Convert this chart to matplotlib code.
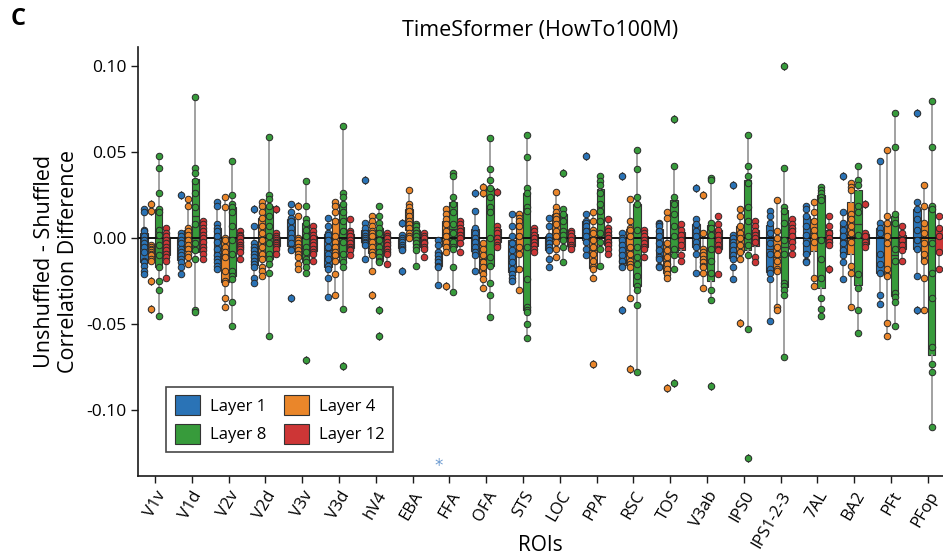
import numpy as np
import matplotlib
matplotlib.use("Agg")
import matplotlib.pyplot as plt
from matplotlib.patches import Patch

rois = ["V1v", "V1d", "V2v", "V2d", "V3v", "V3d", "hV4", "EBA", "FFA", "OFA", "STS",
        "LOC", "PPA", "RSC", "TOS", "V3ab", "IPS0", "IPS1-2-3", "7AL", "BA2", "PFt", "PFop"]

layer_names = ["Layer 1", "Layer 4", "Layer 8", "Layer 12"]
layer_colors = ["#2a73b6", "#ea862a", "#379b3b", "#cd3636"]

# Unshuffled - shuffled correlation difference, one list per ROI
layer1 = [
    [0.017, 0.015, 0.005, 0.004, 0.001, -0.001, -0.003, -0.005, -0.008, -0.013, -0.014, -0.016, -0.019, -0.021],
    [0.025, 0.003, 0.001, -0.001, -0.003, -0.006, -0.008, -0.010, -0.012, -0.014, -0.017, -0.021],
    [0.021, 0.019, 0.008, 0.006, 0.004, 0.001, -0.002, -0.006, -0.010, -0.012, -0.014, -0.016, -0.018],
    [0.017, 0.007, -0.003, -0.005, -0.007, -0.009, -0.011, -0.013, -0.015, -0.017, -0.023, -0.026],
    [0.020, 0.015, 0.012, 0.010, 0.006, 0.003, 0.000, -0.003, -0.006, -0.007, -0.035],
    [0.012, 0.007, 0.003, 0.002, -0.001, -0.005, -0.009, -0.012, -0.016, -0.018, -0.023, -0.034],
    [0.034, 0.009, 0.006, 0.003, 0.001, 0.000, -0.001, -0.002, -0.003, -0.004, -0.012],
    [0.009, 0.002, 0.000, -0.001, -0.002, -0.004, -0.005, -0.006, -0.007, -0.019],
    [-0.001, -0.004, -0.008, -0.010, -0.012, -0.014, -0.016, -0.017, -0.027],
    [0.026, 0.016, 0.006, 0.003, 0.000, -0.002, -0.005, -0.008, -0.010, -0.019],
    [0.014, 0.007, 0.001, -0.003, -0.007, -0.011, -0.014, -0.018, -0.021, -0.023, -0.025],
    [0.012, 0.007, 0.001, -0.001, -0.003, -0.005, -0.007, -0.012, -0.017],
    [0.048, 0.014, 0.010, 0.009, 0.007, 0.004, 0.001, -0.002, -0.006, -0.010],
    [0.036, 0.003, 0.000, -0.001, -0.004, -0.007, -0.010, -0.013, -0.016, -0.017, -0.042],
    [0.009, 0.008, 0.007, 0.004, 0.001, -0.003, -0.007, -0.011, -0.012, -0.016, -0.017],
    [0.029, 0.011, 0.008, 0.004, 0.001, -0.002, -0.005, -0.009, -0.020],
    [0.031, 0.002, 0.000, -0.002, -0.004, -0.007, -0.010, -0.012, -0.017, -0.024],
    [0.016, 0.013, 0.009, 0.003, -0.003, -0.009, -0.018, -0.020, -0.024, -0.048],
    [0.019, 0.017, 0.013, 0.007, 0.002, -0.003, -0.009, -0.013, -0.014],
    [0.036, 0.015, 0.009, 0.005, 0.001, -0.003, -0.007, -0.010, -0.014, -0.024],
    [0.045, 0.009, 0.006, 0.003, -0.009, -0.015, -0.020, -0.033, -0.038],
    [0.073, 0.021, 0.017, 0.011, 0.005, -0.001, -0.006, -0.022, -0.042],
]

layer4 = [
    [0.020, 0.016, -0.004, -0.005, -0.006, -0.007, -0.008, -0.009, -0.010, -0.012, -0.013, -0.025, -0.041],
    [0.023, 0.019, 0.006, 0.004, 0.002, -0.001, -0.004, -0.006, -0.009, -0.011, -0.015],
    [0.024, 0.018, 0.000, -0.001, -0.005, -0.008, -0.011, -0.019, -0.025, -0.026, -0.035, -0.040],
    [0.021, 0.019, 0.015, 0.012, 0.007, 0.003, -0.001, -0.005, -0.009, -0.012, -0.017, -0.019, -0.022],
    [0.019, 0.013, 0.000, -0.001, -0.003, -0.005, -0.007, -0.009, -0.011, -0.015, -0.018],
    [0.021, 0.019, 0.015, 0.010, 0.001, -0.002, -0.005, -0.008, -0.010, -0.013, -0.021, -0.033],
    [0.013, 0.010, 0.007, 0.004, 0.003, 0.001, -0.002, -0.005, -0.008, -0.010, -0.019, -0.033],
    [0.028, 0.020, 0.018, 0.016, 0.013, 0.010, 0.008, 0.006, 0.003, 0.001, 0.000],
    [0.017, 0.014, 0.011, 0.008, 0.004, 0.001, -0.002, -0.005, -0.008, -0.028],
    [0.030, 0.026, -0.003, -0.006, -0.010, -0.014, -0.017, -0.021, -0.024, -0.029],
    [0.014, 0.012, 0.010, 0.007, 0.001, -0.005, -0.009, -0.018, -0.030],
    [0.027, 0.018, 0.015, 0.013, 0.011, 0.008, 0.004, 0.001, -0.002, -0.006, -0.011],
    [0.015, 0.010, 0.005, 0.003, -0.001, -0.005, -0.009, -0.013, -0.017, -0.018, -0.023, -0.073],
    [0.023, 0.010, 0.006, 0.005, 0.001, -0.005, -0.009, -0.013, -0.015, -0.017, -0.035, -0.076],
    [0.015, 0.012, -0.003, -0.007, -0.011, -0.015, -0.018, -0.021, -0.023, -0.087],
    [0.025, 0.003, -0.006, -0.008, -0.010, -0.012, -0.014, -0.016, -0.017, -0.020, -0.029],
    [0.017, 0.013, 0.007, 0.003, 0.000, -0.004, -0.008, -0.012, -0.049],
    [0.022, 0.004, 0.000, -0.005, -0.009, -0.013, -0.018, -0.019, -0.040, -0.042],
    [0.021, 0.015, 0.010, 0.005, 0.001, -0.002, -0.023, -0.028],
    [0.032, 0.030, 0.028, 0.014, 0.011, 0.007, 0.003, -0.002, -0.016, -0.020, -0.040],
    [0.051, 0.013, 0.009, 0.001, -0.003, -0.018, -0.022, -0.049, -0.057],
    [0.031, 0.019, 0.009, 0.003, -0.003, -0.009, -0.013, -0.023, -0.042],
]

layer8 = [
    [0.048, 0.041, 0.026, 0.017, 0.015, 0.005, 0.002, -0.004, -0.010, -0.017, -0.025, -0.030, -0.045],
    [0.082, 0.041, 0.038, 0.033, 0.026, 0.018, 0.008, -0.003, -0.007, -0.012, -0.042, -0.043],
    [0.045, 0.025, 0.020, 0.018, 0.015, 0.007, -0.001, -0.009, -0.019, -0.022, -0.024, -0.037, -0.051],
    [0.059, 0.025, 0.023, 0.019, 0.013, 0.007, 0.001, -0.003, -0.009, -0.012, -0.015, -0.020, -0.057],
    [0.033, 0.019, 0.011, 0.009, 0.005, 0.001, -0.005, -0.008, -0.012, -0.014, -0.017, -0.020, -0.071],
    [0.065, 0.026, 0.024, 0.020, 0.015, 0.010, 0.004, -0.002, -0.009, -0.014, -0.017, -0.041, -0.074],
    [0.019, 0.013, 0.009, 0.006, 0.003, -0.001, -0.005, -0.008, -0.011, -0.013, -0.014, -0.042, -0.057],
    [0.008, 0.007, 0.005, 0.003, 0.001, -0.001, -0.003, -0.005, -0.007, -0.016],
    [0.038, 0.036, 0.024, 0.020, 0.015, 0.008, 0.003, -0.002, -0.005, -0.006, -0.017, -0.031],
    [0.058, 0.040, 0.034, 0.029, 0.024, 0.018, 0.015, 0.000, -0.011, -0.016, -0.026, -0.033, -0.046],
    [0.060, 0.047, 0.029, 0.026, 0.018, 0.016, -0.005, -0.024, -0.040, -0.042, -0.043, -0.050, -0.058],
    [0.038, 0.017, 0.014, 0.010, 0.004, 0.002, -0.001, -0.005, -0.014],
    [0.036, 0.033, 0.031, 0.026, 0.020, 0.016, 0.010, 0.003, -0.002, -0.006, -0.016],
    [0.051, 0.040, 0.024, 0.020, 0.005, -0.005, -0.011, -0.015, -0.022, -0.028, -0.030, -0.039, -0.078],
    [0.069, 0.042, 0.024, 0.020, 0.014, 0.007, 0.001, -0.006, -0.010, -0.018, -0.084],
    [0.035, 0.034, 0.009, 0.006, 0.002, -0.006, -0.013, -0.020, -0.030, -0.036, -0.086],
    [0.060, 0.042, 0.036, 0.032, 0.018, 0.010, 0.001, -0.004, -0.010, -0.053, -0.128],
    [0.100, 0.041, 0.018, 0.016, 0.009, -0.001, -0.009, -0.026, -0.028, -0.030, -0.033, -0.069],
    [0.030, 0.028, 0.026, 0.024, 0.022, -0.001, -0.012, -0.023, -0.035, -0.041, -0.045],
    [0.042, 0.034, 0.031, 0.019, 0.015, 0.002, -0.021, -0.029, -0.042, -0.055],
    [0.073, 0.053, 0.014, 0.009, -0.006, -0.013, -0.032, -0.034, -0.037, -0.051],
    [0.080, 0.053, 0.019, 0.017, -0.003, -0.020, -0.035, -0.063, -0.073, -0.078, -0.110],
]

layer12 = [
    [0.006, 0.003, 0.001, -0.001, -0.003, -0.005, -0.007, -0.009, -0.011, -0.013, -0.023],
    [0.010, 0.008, 0.006, 0.004, 0.002, 0.000, -0.002, -0.005, -0.007, -0.009, -0.012],
    [0.004, 0.002, 0.001, 0.000, -0.002, -0.004, -0.005, -0.006, -0.008, -0.012],
    [0.017, 0.003, 0.001, 0.000, -0.001, -0.002, -0.003, -0.004, -0.005, -0.006, -0.009],
    [0.007, 0.004, 0.002, 0.000, -0.002, -0.004, -0.006, -0.008, -0.009, -0.013],
    [0.011, 0.004, 0.003, 0.001, -0.001, -0.003, -0.005, -0.006, -0.007, -0.010],
    [0.003, 0.001, 0.000, -0.002, -0.004, -0.006, -0.008, -0.009, -0.015],
    [0.003, 0.001, 0.000, -0.002, -0.003, -0.005, -0.006, -0.011],
    [0.010, 0.008, 0.006, 0.004, 0.002, 0.000, -0.003, -0.008],
    [0.027, 0.007, 0.005, 0.003, 0.000, -0.002, -0.004, -0.005],
    [0.006, 0.004, 0.002, 0.000, -0.002, -0.004, -0.006, -0.008],
    [0.004, 0.003, 0.001, -0.001, -0.004, -0.005, -0.006],
    [0.011, 0.006, 0.004, 0.002, 0.000, -0.002, -0.004, -0.006, -0.009],
    [0.005, 0.003, 0.001, -0.001, -0.003, -0.005, -0.006, -0.011],
    [0.008, 0.005, 0.002, -0.001, -0.004, -0.010, -0.013],
    [0.013, 0.008, 0.005, 0.002, -0.001, -0.004, -0.006, -0.007, -0.021],
    [0.010, 0.007, 0.004, 0.002, 0.000, -0.002, -0.011, -0.014],
    [0.011, 0.008, 0.006, 0.004, 0.001, -0.002, -0.005, -0.009],
    [0.013, 0.007, 0.003, 0.000, -0.002, -0.004, -0.018],
    [0.020, 0.003, 0.001, -0.002, -0.004, -0.005],
    [0.007, 0.003, -0.001, -0.004, -0.007, -0.013],
    [0.013, 0.006, 0.001, -0.008, -0.018],
]

# significance marker (ROI, layer, value)
sig_roi = "FFA"
sig_layer = 0
sig_value = -0.1325

plt.rcParams["font.family"] = ["Open Sans", "DejaVu Sans"]

fig = plt.figure(figsize=(9.43, 5.58), dpi=100)
ax = fig.add_axes([0.1463, 0.147, 0.8537, 0.769])

layers = [layer1, layer4, layer8, layer12]
n_hue = len(layers)
width = 0.8 / n_hue
offsets = (np.arange(n_hue) - (n_hue - 1) / 2) * width
edge = "#333333"
xs = np.arange(len(rois))

ax.axhline(0, color="#111111", lw=1.4, zorder=2.5)

for h, (data, col) in enumerate(zip(layers, layer_colors)):
    pos = xs + offsets[h]
    ax.boxplot(
        data, positions=pos, widths=width, patch_artist=True, showcaps=False,
        manage_ticks=False,
        boxprops=dict(facecolor=col, edgecolor=edge, linewidth=0.8),
        whiskerprops=dict(color="#9a9a9a", linewidth=1.3),
        medianprops=dict(color=edge, linewidth=0.9),
        flierprops=dict(marker="d", markerfacecolor=col, markeredgecolor=edge,
                        markersize=4.5, markeredgewidth=0.6),
        zorder=2,
    )
    for i, vals in enumerate(data):
        ax.scatter(np.full(len(vals), pos[i]), vals, s=22, color=col,
                   edgecolor="#2b2b2b", linewidth=0.7, zorder=3)

sx = rois.index(sig_roi) + offsets[sig_layer]
ax.text(sx, sig_value, "*", color="#6b9ad0", ha="center", va="center",
        fontsize=12, family="DejaVu Sans")

ax.set_xlim(-0.46, len(rois) - 0.59)
ax.set_ylim(-0.1382, 0.1112)
ax.set_yticks([-0.10, -0.05, 0.00, 0.05, 0.10])
ax.set_yticklabels(["-0.10", "-0.05", "0.00", "0.05", "0.10"], fontsize=12.5)
ax.set_xticks(xs)
ax.set_xticklabels(rois, rotation=60, ha="right", rotation_mode="anchor", fontsize=12)
ax.tick_params(axis="both", direction="out", length=5, width=1.0, color="#1a1a1a")
ax.tick_params(axis="x", pad=4)
for s in ["top", "right"]:
    ax.spines[s].set_visible(False)
for s in ["left", "bottom"]:
    ax.spines[s].set_linewidth(1.2)
    ax.spines[s].set_color("#1a1a1a")

ax.set_title("TimeSformer (HowTo100M)", fontsize=15.5, pad=8)
ax.set_xlabel("ROIs", fontsize=15)
ax.xaxis.set_label_coords(0.5, -0.161)
ax.xaxis.label.set_va("center")
ax.set_ylabel("Unshuffled - Shuffled\nCorrelation Difference", fontsize=15.5, labelpad=5)
fig.text(0.011, 0.955, "C", fontsize=17, fontweight="bold")

order = [0, 2, 1, 3]
handles = [Patch(facecolor=layer_colors[k], edgecolor=edge, linewidth=0.8,
                 label=layer_names[k]) for k in order]
ax.legend(handles=handles, ncol=2, loc="lower left", bbox_to_anchor=(0.025, 0.036),
          fontsize=12, frameon=True, fancybox=False, edgecolor="#1a1a1a",
          handlelength=1.5, handleheight=1.5, handletextpad=0.6, columnspacing=1.1,
          labelspacing=0.5, borderpad=0.5)
ax.get_legend().get_frame().set_linewidth(1.2)

fig.savefig("out.png", dpi=100)
